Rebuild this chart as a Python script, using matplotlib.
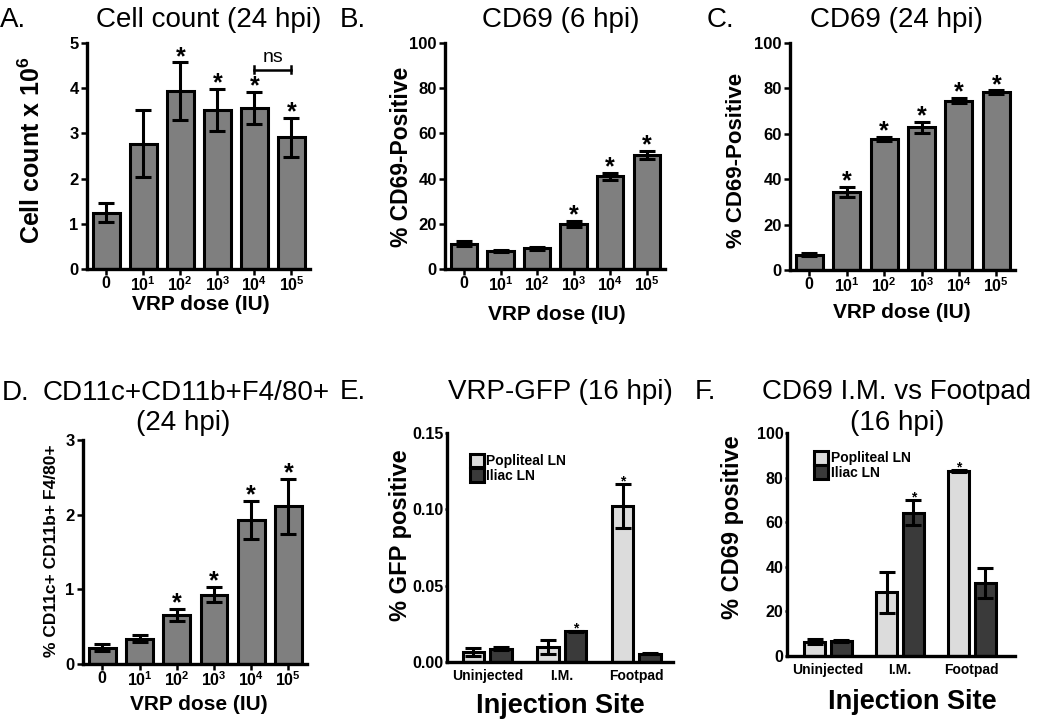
import numpy as np
import matplotlib
matplotlib.use('Agg')
import matplotlib.pyplot as plt

plt.rcParams['font.family'] = ['Liberation Sans', 'DejaVu Sans']
plt.rcParams['mathtext.fontset'] = 'custom'
plt.rcParams['mathtext.rm'] = 'Liberation Sans'
plt.rcParams['mathtext.bf'] = 'Liberation Sans:bold'
plt.rcParams['mathtext.it'] = 'Liberation Sans:italic'

# ---- data ----
doses = [r'$\mathbf{0}$', r'$\mathbf{10^1}$', r'$\mathbf{10^2}$', r'$\mathbf{10^3}$',
         r'$\mathbf{10^4}$', r'$\mathbf{10^5}$']

cell_count = [1.25, 2.77, 3.93, 3.52, 3.56, 2.91]
cell_count_err = [0.20, 0.74, 0.64, 0.47, 0.35, 0.43]
cell_count_sig = [0, 0, 1, 1, 1, 1]

cd69_6h = [11.2, 7.8, 9.2, 19.8, 41.0, 50.5]
cd69_6h_err = [1.0, 0.4, 0.7, 1.3, 1.5, 1.8]
cd69_6h_sig = [0, 0, 0, 1, 1, 1]

cd69_24h = [6.8, 34.3, 57.8, 62.8, 74.6, 78.3]
cd69_24h_err = [0.5, 2.2, 1.0, 2.4, 1.2, 0.8]
cd69_24h_sig = [0, 1, 1, 1, 1, 1]

macro = [0.22, 0.34, 0.66, 0.93, 1.93, 2.11]
macro_err = [0.05, 0.05, 0.08, 0.10, 0.25, 0.37]
macro_sig = [0, 0, 1, 1, 1, 1]

sites = ['Uninjected', 'I.M.', 'Footpad']
gfp_popliteal = [0.0066, 0.0098, 0.102]
gfp_popliteal_err = [0.0025, 0.0043, 0.0145]
gfp_popliteal_sig = [0, 0, 1]
gfp_iliac = [0.0087, 0.0200, 0.0055]
gfp_iliac_err = [0.0008, 0.0005, 0.0003]
gfp_iliac_sig = [0, 1, 0]

cd69_popliteal = [6.4, 28.5, 82.8]
cd69_popliteal_err = [1.0, 9.0, 0.5]
cd69_popliteal_sig = [0, 0, 1]
cd69_iliac = [6.6, 64.2, 32.8]
cd69_iliac_err = [0.4, 5.6, 6.6]
cd69_iliac_sig = [0, 1, 0]

W, H = 1050, 723
GRAY = '#7f7f7f'
LIGHT = '#dcdcdc'
DARK = '#3a3a3a'

fig = plt.figure(figsize=(W / 100, H / 100), dpi=100)


def add_ax(l, t, r, b):
    return fig.add_axes([l / W, 1 - b / H, (r - l) / W, (b - t) / H])


def ftext(x, y, s, **kw):
    fig.text(x / W, 1 - y / H, s, **kw)


def style(ax, xsize=11.5, ysize=12, ylen=4, ypad=2):
    for sp in ['top', 'right']:
        ax.spines[sp].set_visible(False)
    for sp in ['left', 'bottom']:
        ax.spines[sp].set_linewidth(2.4)
    ax.tick_params(direction='out', width=1.8)
    ax.tick_params(axis='y', labelsize=ysize, length=ylen, pad=ypad)
    ax.tick_params(axis='x', labelsize=xsize, length=4, pad=0.5)
    for lab in ax.get_yticklabels() + ax.get_xticklabels():
        lab.set_fontweight('bold')


def stars(ax, x, vals, errs, sig, size=18, off=-1):
    for xi, v, e, s in zip(x, vals, errs, sig):
        if s:
            ax.annotate('*', xy=(xi, v + e), xytext=(0, off),
                        textcoords='offset points', ha='center',
                        va='baseline', fontsize=size, fontweight='bold')


def dose_panel(box, vals, errs, sig, ylim, yticks):
    ax = add_ax(*box)
    x = np.arange(len(vals))
    ax.bar(x, vals, width=0.72, color=GRAY, edgecolor='black', linewidth=2.2,
           yerr=errs, error_kw=dict(ecolor='black', elinewidth=2.2,
                                    capsize=6, capthick=2.2))
    ax.set_xlim(-0.52, 5.5)
    ax.set_ylim(*ylim)
    ax.set_yticks(yticks)
    ax.set_xticks(x)
    ax.set_xticklabels(doses)
    style(ax)
    stars(ax, x, vals, errs, sig)
    return ax


def site_panel(box, pop, pop_err, pop_sig, ili, ili_err, ili_sig,
               ylim, yticks, xlim, legend_at):
    ax = add_ax(*box)
    x = np.arange(len(sites))
    ek = dict(ecolor='black', elinewidth=2.2, capsize=6, capthick=2.2)
    ax.bar(x - 0.185, pop, width=0.29, color=LIGHT, edgecolor='black',
           linewidth=2.2, yerr=pop_err, error_kw=ek, label='Popliteal LN')
    ax.bar(x + 0.185, ili, width=0.29, color=DARK, edgecolor='black',
           linewidth=2.2, yerr=ili_err, error_kw=ek, label='Iliac LN')
    ax.set_xlim(*xlim)
    ax.set_ylim(*ylim)
    ax.set_yticks(yticks)
    ax.set_xticks(x)
    ax.set_xticklabels(sites)
    style(ax, xsize=10, ysize=11.5, ylen=1.5, ypad=1)
    ax.tick_params(axis='x', length=0, pad=5)
    stars(ax, x - 0.185, pop, pop_err, pop_sig, size=10, off=-1)
    stars(ax, x + 0.185, ili, ili_err, ili_sig, size=10, off=-1)
    ax.legend(loc='upper left', bbox_to_anchor=legend_at, frameon=False,
              handlelength=1.05, handleheight=1.15, handletextpad=0.15,
              labelspacing=0.0, borderpad=0.0, borderaxespad=0.0,
              prop=dict(size=10, weight='bold'))
    return ax


# A
axA = dose_panel((87, 43, 310, 269), cell_count, cell_count_err,
                 cell_count_sig, (0, 5), range(0, 6))
axA.plot([4, 5], [4.41, 4.41], color='black', lw=1.8)
axA.plot([4, 4], [4.33, 4.49], color='black', lw=1.8)
axA.plot([5, 5], [4.33, 4.49], color='black', lw=1.8)
axA.text(4.5, 4.5, 'ns', ha='center', va='bottom', fontsize=14)

# B
dose_panel((445, 43, 665, 269), cd69_6h, cd69_6h_err, cd69_6h_sig,
           (0, 100), range(0, 101, 20))
# C
dose_panel((790, 43, 1015, 270), cd69_24h, cd69_24h_err, cd69_24h_sig,
           (0, 100), range(0, 101, 20))
# D
dose_panel((83, 440, 307, 664), macro, macro_err, macro_sig,
           (0, 3), range(0, 4))

# E
axE = site_panel((447, 433, 673, 662), gfp_popliteal, gfp_popliteal_err,
                 gfp_popliteal_sig, gfp_iliac, gfp_iliac_err, gfp_iliac_sig,
                 (0, 0.15), [0, 0.05, 0.10, 0.15], (-0.54, 2.49), (0.10, 0.91))
axE.set_yticklabels(['0.00', '0.05', '0.10', '0.15'])
for lab in axE.get_yticklabels():
    lab.set_fontweight('bold')

# F
site_panel((787, 433, 1015, 656), cd69_popliteal, cd69_popliteal_err,
           cd69_popliteal_sig, cd69_iliac, cd69_iliac_err, cd69_iliac_sig,
           (0, 100), range(0, 101, 20), (-0.57, 2.6), (0.118, 0.92))

# panel letters and titles
for x, y, s in [(0, 20, 'A.'), (340, 20, 'B.'), (707, 20, 'C.'),
                (2, 393, 'D.'), (340, 392, 'E.'), (695, 392, 'F.')]:
    ftext(x, y, s, ha='left', va='center', fontsize=20)

ftext(209, 20, 'Cell count (24 hpi)', ha='center', va='center', fontsize=20)
ftext(561, 20, 'CD69 (6 hpi)', ha='center', va='center', fontsize=20)
ftext(897, 20, 'CD69 (24 hpi)', ha='center', va='center', fontsize=20)
ftext(186, 393, 'CD11c+CD11b+F4/80+', ha='center', va='center', fontsize=20)
ftext(183, 423, '(24 hpi)', ha='center', va='center', fontsize=20)
ftext(560, 392, 'VRP-GFP (16 hpi)', ha='center', va='center', fontsize=20)
ftext(897, 392, 'CD69 I.M. vs Footpad', ha='center', va='center', fontsize=20)
ftext(897, 423, '(16 hpi)', ha='center', va='center', fontsize=20)

# y labels
ftext(32, 150, r'Cell count x $\mathbf{10^6}$', rotation=90, ha='center',
      va='center', fontsize=18, fontweight='bold')
ftext(402, 157, '% CD69-Positive', rotation=90, ha='center', va='center',
      fontsize=16.5, fontweight='bold')
ftext(737, 160, '% CD69-Positive', rotation=90, ha='center', va='center',
      fontsize=16, fontweight='bold')
ftext(52, 551, '% CD11c+ CD11b+ F4/80+', rotation=90, ha='center',
      va='center', fontsize=12.5, fontweight='bold')
ftext(401, 535, '% GFP positive', rotation=90, ha='center', va='center',
      fontsize=17, fontweight='bold')
ftext(733, 527, '% CD69 positive', rotation=90, ha='center', va='center',
      fontsize=17, fontweight='bold')

# x labels
for x, y in [(201, 304), (557, 314), (902, 313), (199, 705)]:
    ftext(x, y, 'VRP dose (IU)', ha='center', va='center', fontsize=15,
          fontweight='bold')
for x, y in [(560, 706), (912, 702)]:
    ftext(x, y, 'Injection Site', ha='center', va='center', fontsize=19.5,
          fontweight='bold')

fig.savefig('out.png', dpi=100)
